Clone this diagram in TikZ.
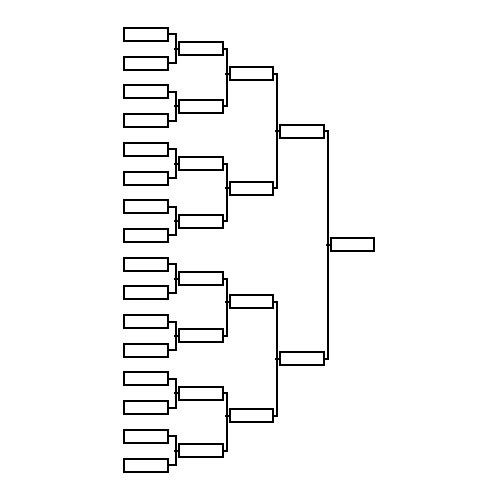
\documentclass[tikz,border=0pt]{standalone}
\begin{document}
\begin{tikzpicture}[x=1pt,y=-1pt,line width=2pt,
    bracket/.style={to path={-- ++(#1,0) |- (\tikztotarget)}},
    bracket/.default=2.75]

        \useasboundingbox (0,0) rectangle (500,500);

        \begin{scope}[every node/.style={draw,rectangle,minimum width=43.5pt,minimum height=13pt,inner sep=0pt}]
          % first round
          \node (r1-1)  at (146,34.5)  {};
          \node (r1-2)  at (146,63.2)  {};
          \node (r1-3)  at (146,91.9)  {};
          \node (r1-4)  at (146,120.6) {};
          \node (r1-5)  at (146,149.3) {};
          \node (r1-6)  at (146,178.0) {};
          \node (r1-7)  at (146,206.7) {};
          \node (r1-8)  at (146,235.4) {};
          \node (r1-9)  at (146,264.1) {};
          \node (r1-10) at (146,292.8) {};
          \node (r1-11) at (146,321.5) {};
          \node (r1-12) at (146,350.2) {};
          \node (r1-13) at (146,378.9) {};
          \node (r1-14) at (146,407.6) {};
          \node (r1-15) at (146,436.3) {};
          \node (r1-16) at (146,465.0) {};
          % second round
          \node (r2-1) at (201,48.9)  {};
          \node (r2-2) at (201,106.3) {};
          \node (r2-3) at (201,163.7) {};
          \node (r2-4) at (201,221.1) {};
          \node (r2-5) at (201,278.5) {};
          \node (r2-6) at (201,335.9) {};
          \node (r2-7) at (201,393.3) {};
          \node (r2-8) at (201,450.7) {};
          % quarter finals
          \node (r3-1) at (251.5,74.0)  {};
          \node (r3-2) at (251.5,188.0) {};
          \node (r3-3) at (251.5,301.7) {};
          \node (r3-4) at (251.5,415.5) {};
          % semi finals
          \node (r4-1) at (302,131.0) {};
          \node (r4-2) at (302,358.6) {};
          % final
          \node (fin) at (352.5,244.8) {};
        \end{scope}

        \begin{scope}[every edge/.style={draw,bracket=7.25}]
          \path (r1-1.east)  edge (r1-2.east);
          \path (r1-3.east)  edge (r1-4.east);
          \path (r1-5.east)  edge (r1-6.east);
          \path (r1-7.east)  edge (r1-8.east);
          \path (r1-9.east)  edge (r1-10.east);
          \path (r1-11.east) edge (r1-12.east);
          \path (r1-13.east) edge (r1-14.east);
          \path (r1-15.east) edge (r1-16.east);
        \end{scope}

        \begin{scope}[every edge/.style={draw,bracket}]
          \path (r2-1.east) edge (r2-2.east);
          \path (r2-3.east) edge (r2-4.east);
          \path (r2-5.east) edge (r2-6.east);
          \path (r2-7.east) edge (r2-8.east);
          \path (r3-1.east) edge (r3-2.east);
          \path (r3-3.east) edge (r3-4.east);
          \path (r4-1.east) edge (r4-2.east);
        \end{scope}

        % stubs into the next round
        \begin{scope}[every edge/.style={draw}]
          \path (r2-1.west) edge ++(-4.25,0);
          \path (r2-2.west) edge ++(-4.25,0);
          \path (r2-3.west) edge ++(-4.25,0);
          \path (r2-4.west) edge ++(-4.25,0);
          \path (r2-5.west) edge ++(-4.25,0);
          \path (r2-6.west) edge ++(-4.25,0);
          \path (r2-7.west) edge ++(-4.25,0);
          \path (r2-8.west) edge ++(-4.25,0);
          \path (r3-1.west) edge ++(-4.25,0);
          \path (r3-2.west) edge ++(-4.25,0);
          \path (r3-3.west) edge ++(-4.25,0);
          \path (r3-4.west) edge ++(-4.25,0);
          \path (r4-1.west) edge ++(-4.25,0);
          \path (r4-2.west) edge ++(-4.25,0);
          \path (fin.west)  edge ++(-4.25,0);
        \end{scope}

      \end{tikzpicture}
\end{document}
